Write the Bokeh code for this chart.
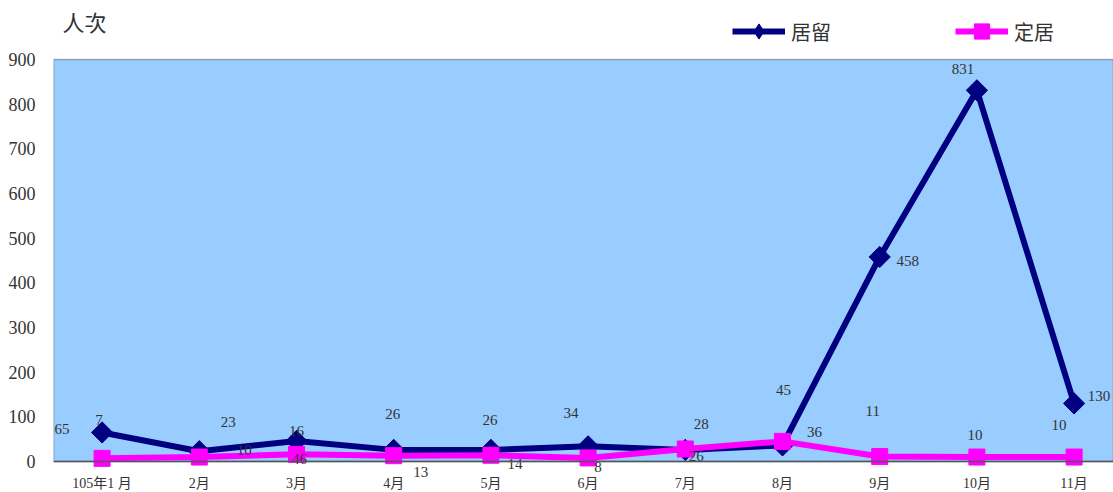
import math
from bokeh.plotting import figure
from bokeh.models import (ColumnDataSource, Legend, LegendItem, Label, Range1d,
                          FixedTicker, BoxAnnotation, Span)
from bokeh.core.properties import value
from bokeh.embed import file_html
from bokeh.resources import INLINE

months = ["105年1 月", "2月", "3月", "4月", "5月", "6月", "7月", "8月", "9月", "10月", "11月"]
juliu = [65, 23, 46, 26, 26, 34, 26, 36, 458, 831, 130]
dingju = [7, 10, 16, 13, 14, 8, 28, 45, 11, 10, 10]
y_ticks = [0, 100, 200, 300, 400, 500, 600, 700, 800, 900]
y_max = 900

# pixel offsets of the data labels (as positioned in the original chart; +dy = downwards)
juliu_dx = [-40, 29, 3, -1, -1, -17, 11, 32, 28, -14, 25]
juliu_dy = [-3, -29, 18, -36, -30, -33, 6, -13, 4, -21, -7]
dingju_dx = [-3, 45, 0, 27, 24, 10, 16, 1, -7, -2, -15]
dingju_dy = [-38, -7, -23, 16, 9, 9, -25, -51, -46, -22, -32]

NAVY = "#000080"
MAGENTA = "#FF00FF"
TXT = "#333333"
SERIF = "'Liberation Serif', 'Times New Roman', serif"
CJK = "'Noto Sans CJK TC', sans-serif"
MIX = "'Liberation Serif', 'Noto Sans CJK TC', serif"

W, H = 1113, 492
LEFT = 53
BELOW_PX = 31                 # pixels below the zero line (month labels live there)
frame_h = H                   # frame spans the full canvas height
frame_w = W - LEFT
plot_px = 402                 # pixel height of the 0..900 plot area
cat_px = 97.2                 # pixel width of one month slot (chart is cropped at the right)
bottom_val = -y_max * BELOW_PX / plot_px
top_val = y_max * (frame_h - BELOW_PX) / plot_px
xs = list(range(len(months)))

p = figure(width=W, height=H, x_range=Range1d(-0.5, -0.5 + frame_w / cat_px),
           y_range=Range1d(bottom_val, top_val), output_backend="svg", toolbar_location=None,
           min_border_left=LEFT, min_border_right=0, min_border_top=0, min_border_bottom=0)
p.background_fill_color = "white"
p.border_fill_color = "white"
p.outline_line_color = None
p.grid.visible = False
p.xaxis.visible = False

p.add_layout(BoxAnnotation(bottom=0, top=y_max, fill_color="#99CCFF", fill_alpha=1,
                           line_color="black", line_width=1.5, level="underlay"))
p.add_layout(Span(location=0, dimension="width", line_color="#555555", line_width=1.5))

p.yaxis.ticker = FixedTicker(ticks=y_ticks)
p.yaxis.axis_line_color = None
p.yaxis.major_tick_line_color = None
p.yaxis.minor_tick_line_color = None
p.yaxis.major_label_text_font = SERIF
p.yaxis.major_label_text_font_size = "18px"
p.yaxis.major_label_text_color = TXT
p.yaxis.major_label_standoff = 12

# month labels under the zero line
msrc = ColumnDataSource(dict(x=xs, y=[0] * len(xs), t=months))
p.text("x", "y", text="t", source=msrc, y_offset=22, text_align="center",
       text_baseline="middle", text_font=value(MIX), text_font_size="14px", text_color=TXT)

src1 = ColumnDataSource(dict(x=xs, y=juliu, t=[str(v) for v in juliu], dx=juliu_dx, dy=juliu_dy))
src2 = ColumnDataSource(dict(x=xs, y=dingju, t=[str(v) for v in dingju], dx=dingju_dx, dy=dingju_dy))

l1 = p.line("x", "y", source=src1, line_color=NAVY, line_width=6)
# diamond glyph (used for the legend; covered by the wider rotated squares below)
m1 = p.scatter("x", "y", source=src1, marker="diamond", size=20, fill_color=NAVY, line_color=NAVY)
p.scatter("x", "y", source=src1, marker="square", angle=math.pi / 4, size=15,
          fill_color=NAVY, line_color=NAVY)
l2 = p.line("x", "y", source=src2, line_color=MAGENTA, line_width=6)
m2 = p.scatter("x", "y", source=src2, marker="square", size=16, fill_color=MAGENTA, line_color=MAGENTA)

for s in (src1, src2):
    p.text("x", "y", text="t", source=s, x_offset="dx", y_offset="dy",
           text_align="center", text_baseline="middle", text_font=value(SERIF),
           text_font_size="15px", text_color=TXT)

legend = Legend(items=[LegendItem(label="居留", renderers=[l1, m1]),
                       LegendItem(label="定居", renderers=[l2, m2])],
                orientation="horizontal", location=(679, frame_h - 50),
                glyph_width=53, glyph_height=38, label_standoff=6, label_width=164,
                spacing=0, padding=0, margin=0, background_fill_alpha=0, border_line_color=None,
                label_text_font=CJK, label_text_font_size="20px", label_text_color=TXT)
p.add_layout(legend, "center")

p.add_layout(Label(x=9, y=frame_h - 36, x_units="screen", y_units="screen", text="人次",
                   text_font=CJK, text_font_size="22px", text_color=TXT))

open("out.html", "w").write(file_html(p, INLINE))
